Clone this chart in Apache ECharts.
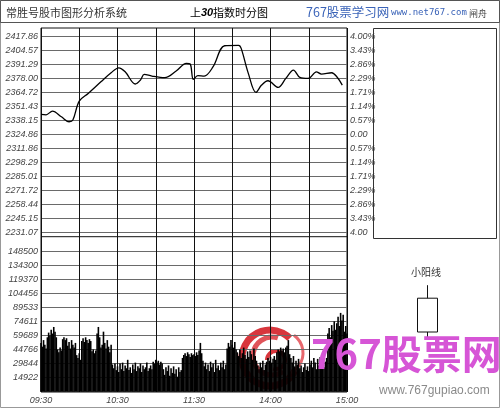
<!DOCTYPE html>
<html><head><meta charset="utf-8">
<script src="https://cdn.jsdelivr.net/npm/echarts@6/dist/echarts.min.js"></script>
<style>html,body{margin:0;padding:0;background:#fff}#c{width:500px;height:408px}</style>
</head><body><div id="c"></div>
<script>
// ---- data ----
const priceTicks = ['2231.07','2245.15','2258.44','2271.72','2285.01','2298.29','2311.86','2324.86','2338.15','2351.43','2364.72','2378.00','2391.29','2404.57','2417.86'];
const pctTicks = ['4.00','3.43%','2.86%','2.29%','1.71%','1.14%','0.57%','0.00','0.57%','1.14%','1.71%','2.29%','2.86%','3.43%','4.00%'];
const volTicks = ['','14922','29844','44766','59689','74611','89533','104456','119370','134300','148500'];
const timeTicks = ['09:30','','10:30','','11:30','','14:00','','15:00'];
const priceMinutes = [0,4,9,16,22,25,30,37,47,55,61,66,74,78,81,87,97,106,114,117,119.5,123,128,135,144,155,157,162.6,168.6,173,178,186,192,198,203,209.6,216,220,228,232,236.3];
const priceValues = [2344.3,2343.9,2347.4,2342.0,2337.3,2338.9,2356.9,2364.2,2375.2,2383.8,2388.5,2384.7,2373.1,2376.9,2382.3,2380.6,2379.1,2385.4,2392.7,2392.1,2377.5,2381.0,2380.6,2389.5,2409.4,2409.8,2406.9,2383.2,2365.2,2372.1,2376.2,2369.9,2378.4,2386.3,2379.4,2378.4,2384.7,2382.5,2383.8,2380.0,2372.1];
const volumes = [
52000,48000,55000,50000,46000,58000,63000,60000,66000,62000,
69000,64000,58000,45000,42000,47000,44000,56000,58000,55000,
57000,49000,53000,46000,55000,50000,47000,52000,39000,36000,
41000,34000,54000,57000,53000,58000,55000,52000,56000,54000,
43000,45000,41000,44000,62000,69000,58000,47000,50000,64000,
52000,46000,55000,48000,42000,50000,29000,25000,30000,23000,
27000,21000,30000,24000,31000,22000,28000,25000,34000,23000,
26000,20000,29000,24000,31000,22000,27000,25000,30000,21000,
28000,24000,26000,31000,22000,25000,28000,24000,32000,30000,
34000,31000,33000,29000,32000,30000,24000,18000,26000,22000,
28000,17000,25000,20000,27000,19000,24000,16000,26000,21000,
23000,36000,39000,41000,38000,42000,40000,37000,41000,39000,
40000,38000,42000,39000,44000,52000,41000,33000,27000,31000,
24000,29000,22000,32000,26000,30000,21000,34000,25000,28000,
23000,31000,26000,33000,24000,29000,46000,52000,48000,55000,
50000,47000,53000,45000,42000,38000,45000,36000,41000,47000,
39000,35000,43000,37000,44000,40000,34000,46000,38000,33000,
28000,24000,31000,26000,33000,23000,29000,32000,36000,33000,
37000,31000,35000,38000,34000,42000,45000,43000,47000,44000,
46000,42000,47000,49000,55000,40000,36000,31000,38000,27000,
33000,29000,35000,25000,28000,21000,26000,30000,23000,27000,
22000,29000,33000,26000,36000,31000,24000,35000,28000,37000,
30000,34000,26000,32000,36000,62000,68000,58000,71000,65000,
75000,66000,73000,80000,70000,84000,76000,82000,64000,70000,
62000];
const candle = [[2, 7.2, 0.8, 9.2]];

// ---- build ----
const pStep = 93/7, pMin = 168*pStep, pMax = 182*pStep;
const qStep = 4/7;
const vStep = 14922.2, vMax = 10*vStep;
const lblFont = {fontFamily:'Liberation Sans', fontStyle:'italic', fontSize:9, color:'#444'};
const hLine = {show:true, lineStyle:{color:'#6a6a6a', width:1}};

const chart = echarts.init(document.getElementById('c'), null, {renderer:'canvas'});
chart.setOption({
  animation:false,
  backgroundColor:'#fff',
  grid:[
    {left:41, right:153, top:36.7, height:196},
    {left:41, right:153, top:251.7, height:140},
    {left:41, right:153, top:28, height:364, show:true, borderColor:'#111', borderWidth:1},
    {left:400, width:55, top:280, height:65}
  ],
  xAxis:[
    {gridIndex:0, type:'value', min:0, max:240, interval:30, show:false},
    {gridIndex:1, type:'value', min:0, max:240, interval:30, show:false},
    {gridIndex:2, type:'value', min:0, max:240, interval:30,
      axisLine:{show:false}, axisTick:{show:false},
      splitLine:{show:true, lineStyle:{color:'#111', width:1}},
      axisLabel:Object.assign({margin:4, showMinLabel:true, showMaxLabel:true,
        formatter:v=>timeTicks[Math.round(v/30)]||''}, lblFont)},
    {gridIndex:3, type:'category', data:['k'], show:false}
  ],
  yAxis:[
    {gridIndex:0, type:'value', min:pMin, max:pMax, interval:pStep,
      axisLine:{show:false}, axisTick:{show:false}, splitLine:hLine,
      axisLabel:Object.assign({margin:3, showMinLabel:true, showMaxLabel:true,
        formatter:v=>priceTicks[Math.round((v-pMin)/pStep)]||''}, lblFont)},
    {gridIndex:0, type:'value', position:'right', min:-4, max:4, interval:qStep,
      axisLine:{show:false}, axisTick:{show:false}, splitLine:{show:false},
      axisLabel:Object.assign({margin:3, showMinLabel:true, showMaxLabel:true,
        formatter:v=>pctTicks[Math.round((v+4)/qStep)]||''}, lblFont)},
    {gridIndex:1, type:'value', min:0, max:vMax, interval:vStep,
      axisLine:{show:false}, axisTick:{show:false}, splitLine:hLine,
      axisLabel:Object.assign({margin:3, showMinLabel:true, showMaxLabel:true,
        formatter:v=>volTicks[Math.round(v/vStep)]||''}, lblFont)},
    {gridIndex:2, type:'value', min:0, max:1, show:false},
    {gridIndex:3, type:'value', min:0, max:10, show:false}
  ],
  series:[
    {type:'line', xAxisIndex:0, yAxisIndex:0, showSymbol:false, smooth:0.35,
      lineStyle:{color:'#000', width:1.3},
      data:priceMinutes.map((m,i)=>[m, priceValues[i]]), z:5},
    {type:'bar', xAxisIndex:1, yAxisIndex:2, barWidth:1.6,
      itemStyle:{color:'#000'},
      data:volumes.map((v,i)=>[i, v]), z:3},
    {type:'candlestick', xAxisIndex:3, yAxisIndex:4, barWidth:20,
      itemStyle:{color:'#fff', color0:'#fff', borderColor:'#111', borderColor0:'#111', borderWidth:1},
      data:candle}
  ],
  graphic:[
    {type:'rect', shape:{x:0.5, y:0.5, width:499, height:407}, style:{fill:'none', stroke:'#999', lineWidth:1}, z:1},
    {type:'rect', shape:{x:0.5, y:0.5, width:499, height:22}, style:{fill:'none', stroke:'#555', lineWidth:1}, z:1},
    {type:'line', shape:{x1:41, y1:236.7, x2:347, y2:236.7}, style:{stroke:'#111', lineWidth:1}, z:10},
    {type:'rect', shape:{x:373.5, y:28.5, width:123, height:210}, style:{fill:'none', stroke:'#333', lineWidth:1}, z:1},
    {type:'text', x:6, y:13, style:{text:'常胜号股市图形分析系统', font:'11px "Noto Sans CJK SC"', fill:'#333', verticalAlign:'middle'}},
    {type:'text', x:229, y:13, style:{text:'{a|上}{b|30}{a|指数时分图}', align:'center', verticalAlign:'middle',
      rich:{a:{fontFamily:'Noto Sans CJK SC', fontSize:11, color:'#333'}, b:{fontFamily:'Liberation Sans', fontWeight:'bold', fontStyle:'italic', fontSize:11, color:'#222'}}}},
    {type:'text', x:306, y:12, style:{text:'767股票学习网', font:'12.5px "Noto Sans CJK SC"', fill:'#3a63b8', verticalAlign:'middle'}},
    {type:'text', x:391, y:13, style:{text:'www.net767.com', font:'9px "DejaVu Sans Mono"', fill:'#3a63b8', verticalAlign:'middle'}},
    {type:'text', x:469, y:14, style:{text:'闸舟', font:'9px "Noto Sans CJK SC"', fill:'#444', verticalAlign:'middle'}},
    {type:'text', x:426, y:272, style:{text:'小阳线', font:'10px "Noto Sans CJK SC"', fill:'#333', align:'center', verticalAlign:'middle'}},
    {type:'group', z:20, children:[
      {type:'arc', shape:{cx:270, cy:358, r:28, startAngle:Math.PI*0.15, endAngle:Math.PI*1.75, clockwise:true}, style:{fill:'none', stroke:'#d8363d', lineWidth:7}},
      {type:'arc', shape:{cx:272, cy:356, r:19, startAngle:Math.PI*0.3, endAngle:Math.PI*1.6, clockwise:true}, style:{fill:'none', stroke:'#e0545a', lineWidth:5}},
      {type:'arc', shape:{cx:276, cy:360, r:9, startAngle:Math.PI*1.0, endAngle:Math.PI*2.6, clockwise:true}, style:{fill:'none', stroke:'#d8363d', lineWidth:4}},
      {type:'arc', shape:{cx:281, cy:353, r:22, startAngle:Math.PI*1.7, endAngle:Math.PI*0.35, clockwise:true}, style:{fill:'none', stroke:'#e8686e', lineWidth:3}}
    ]},
    {type:'text', x:311, y:354, z:21, style:{text:'767股票网', font:'bold 40px "Noto Sans CJK SC"', fill:'#d655d6', verticalAlign:'middle'}},
    {type:'text', x:379, y:391, z:21, style:{text:'www.767gupiao.com', font:'12px "Liberation Sans"', fill:'#8a8a8a', verticalAlign:'middle'}}
  ]
});
</script></body></html>
